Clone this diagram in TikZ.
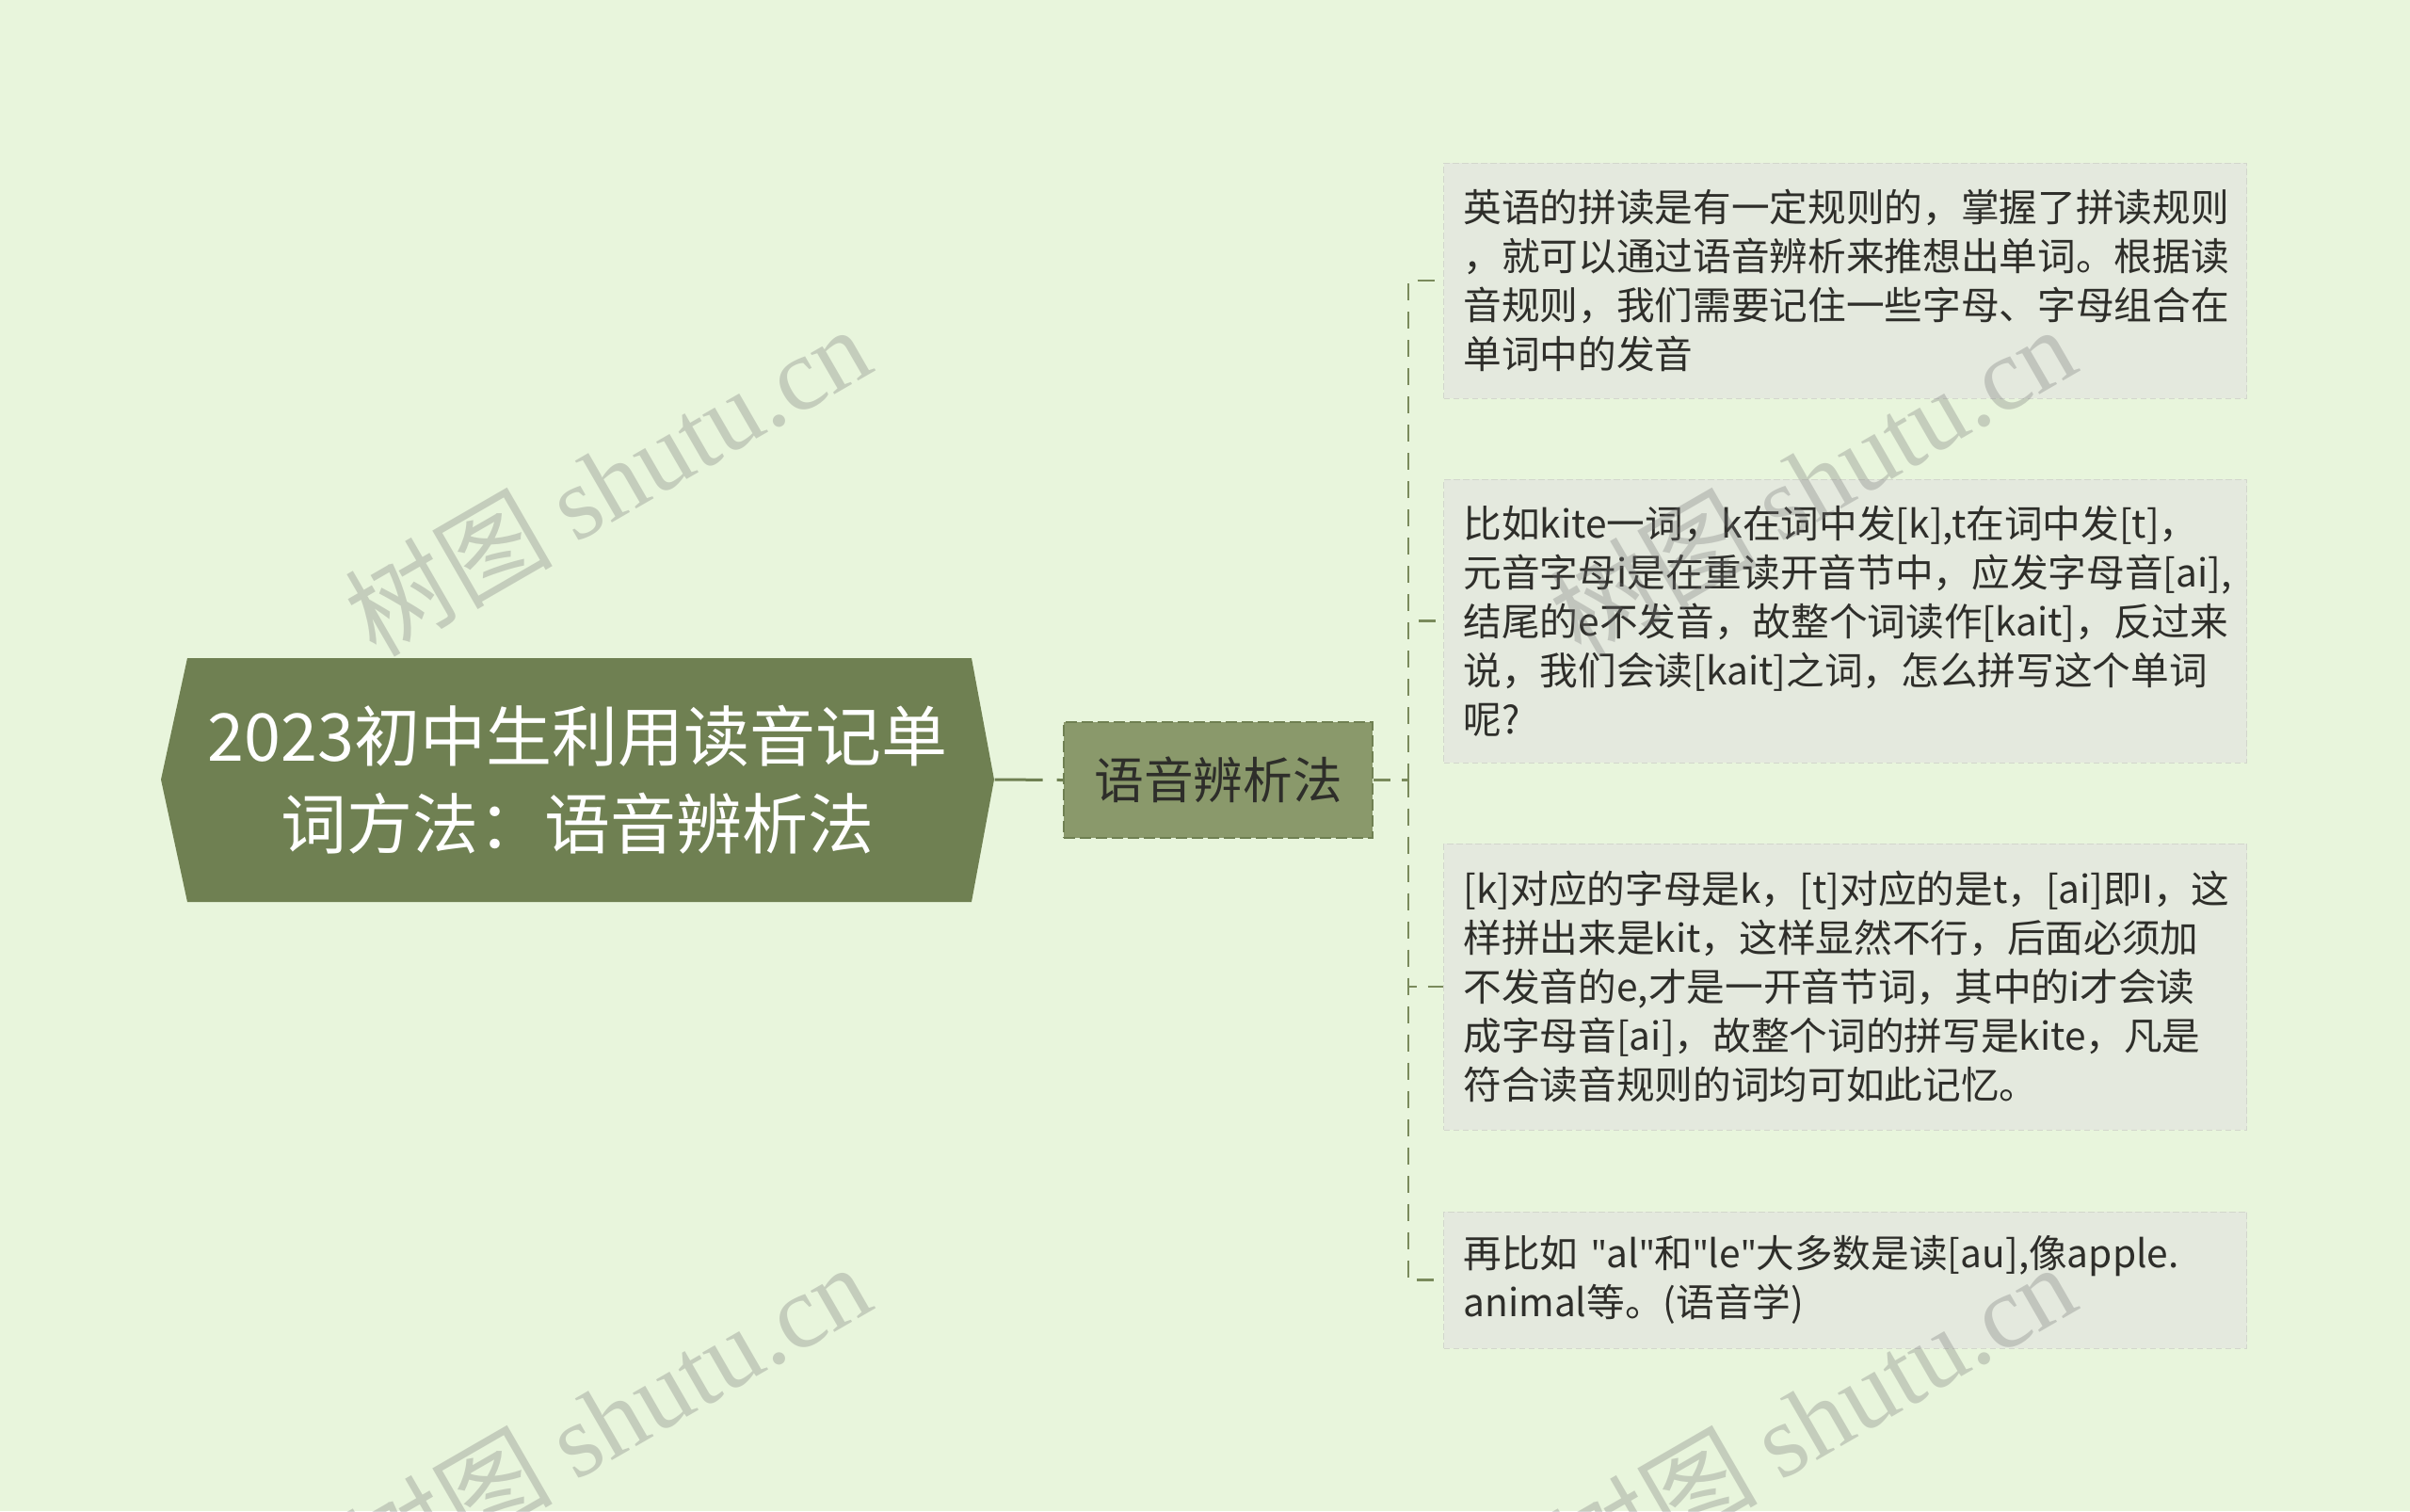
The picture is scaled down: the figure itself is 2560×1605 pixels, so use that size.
\documentclass[tikz,border=0pt]{standalone}
\usepackage{fontspec}
\setmainfont{Noto Sans CJK SC}
\newfontfamily\wmserif{Liberation Serif}
\newfontfamily\wmcjk{Noto Sans CJK SC}
\newfontfamily\qfont{Noto Sans}
\newcommand{\dq}{{\qfont\symbol{"22}}}
\definecolor{bgc}{HTML}{E8F5DC}
\definecolor{rootc}{HTML}{6F8052}
\definecolor{subc}{HTML}{8A996B}
\definecolor{leafc}{HTML}{E4E9DE}
\definecolor{txtc}{HTML}{2E2E2A}
\definecolor{linec}{HTML}{7A8A5C}
\tikzset{
  rootnode/.style={minimum width=265.5pt, minimum height=77.7pt, inner sep=0pt, text=white, align=center, font=\fontsize{21pt}{28pt}\selectfont},
  subnode/.style={fill=subc, draw=rootc, line width=0.7pt, dash pattern=on 3.6pt off 1.5pt, minimum width=98.4pt, minimum height=36.9pt, inner sep=0pt, text=txtc, font=\fontsize{15.8pt}{18pt}\selectfont},
  leafnode/.style={fill=leafc, draw=leafc!92!black, line width=0.3pt, dash pattern=on 2pt off 1pt, inner xsep=6.3pt, inner ysep=0pt, text width=243.3pt, align=left, anchor=west, text=txtc, font=\fontsize{12.2pt}{15.6pt}\selectfont},
  rootline/.style={draw=rootc, line width=0.9pt, dash pattern=on 15.3pt off 4.5pt},
  trunkline/.style={draw=linec, line width=0.75pt, dash pattern=on 5.4pt off 3.6pt},
  wmark/.style={rotate=30, text=black!55, opacity=0.3, inner sep=0pt}
}
\begin{document}
\begin{tikzpicture}[x=0.3pt, y=-0.3pt]
\useasboundingbox[fill=bgc] (0,0) rectangle (2560,1605);
% root hexagon
\fill[rootc] (171,828) -- (199,699) -- (1032,699) -- (1056,828) -- (1032,958) -- (199,958) -- cycle;
\node[rootnode] (root) at (613.5,828) {2023初中生利用读音记单\\词方法：语音辨析法};
% sub
\node[subnode] (sub) at (1294,828.5) {语音辨析法};
% leaves
\node[leafnode, minimum height=75pt] (leaf1) at (1533,298) {英语的拼读是有一定规则的，掌握了拼读规则\\，就可以通过语音辨析来推想出单词。根据读\\音规则，我们需要记住一些字母、字母组合在\\单词中的发音};
\node[leafnode, minimum height=90.3pt] (leaf2) at (1533,659.5) {比如kite一词，k在词中发[k],t在词中发[t]，\\元音字母i是在重读开音节中，应发字母音[ai],\\结尾的e不发音，故整个词读作[kait]，反过来\\说，我们会读[kait]之词，怎么拼写这个单词\\呢?};
\node[leafnode, minimum height=91.2pt] (leaf3) at (1533,1048) {[k]对应的字母是k，[t]对应的是t，[ai]即I，这\\样拼出来是kit，这样显然不行，后面必须加\\不发音的e,才是一开音节词，其中的i才会读\\成字母音[ai]，故整个词的拼写是kite，凡是\\符合读音规则的词均可如此记忆。};
\node[leafnode, minimum height=43.5pt] (leaf4) at (1533,1359.5) {再比如~\dq al\dq 和\dq le\dq 大多数是读[au],像apple.\\animal等。(语音学)};
% connectors
\coordinate (tj) at (1496,828.5);
\draw[rootline] (root.east) -- (sub.west);
\draw[trunkline] (sub.east) -- (tj);
\draw[trunkline] (tj) |- (leaf1.west);
\draw[trunkline] (tj) |- (leaf2.west);
\draw[trunkline] (tj) |- (leaf3.west);
\draw[trunkline] (tj) |- (leaf4.west);
% watermarks
\foreach \wx/\wy [count=\i] in {645/510, 645/1506, 1925/510, 1925/1506}{
  \node[wmark] (wm\i) at (\wx,\wy) {\fontsize{33pt}{33pt}\selectfont\wmcjk 树图 \wmserif shutu.cn};
}
\end{tikzpicture}
\end{document}
